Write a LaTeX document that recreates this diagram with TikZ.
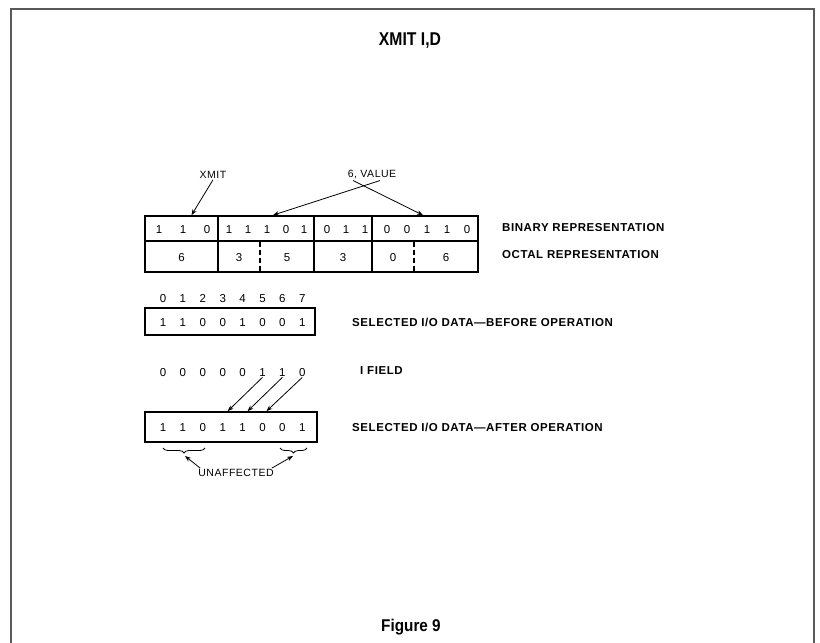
\documentclass[tikz,border=0pt]{standalone}
\usepackage{fontspec}
\setmainfont{Liberation Sans}
\newfontfamily\widefont{Liberation Sans}[LetterSpace=5]
\usetikzlibrary{arrows.meta,calc,decorations.pathreplacing}

\begin{document}
\begin{tikzpicture}[
  x=1pt, y=-1pt,
  cell/.style={draw, line width=1.7pt, inner sep=0pt},
  bit/.style={font=\fontsize{11.5}{12}\selectfont, inner sep=1pt, text height=8.3pt, text depth=0pt},
  lbl/.style={anchor=west, inner sep=0pt, font=\fontsize{11.5}{12}\selectfont\widefont\bfseries},
  note/.style={inner sep=1pt, font=\fontsize{10.5}{11}\selectfont\widefont},
  arr/.style={-{Stealth[length=6pt,width=4.5pt]}, line width=0.8pt},
  frame/.style={draw=black!65, line width=1.3pt}
]
  \useasboundingbox (0,0) rectangle (820,643);
  \draw[frame] (11,643) -- (11,9) -- (814,9) -- (814,643);

  \node[font=\fontsize{18.5}{18}\selectfont\bfseries, xscale=0.85, transform shape] (title) at (410,41) {XMIT I,D};
  \node[font=\fontsize{17}{17}\selectfont\bfseries, xscale=0.9, transform shape] (fig) at (411,627) {Figure 9};

  % instruction word
  \node[cell, minimum width=73, minimum height=25] (bin1) at (181.5,228.5) {};
  \node[cell, minimum width=96, minimum height=25] (bin2) at (266,228.5) {};
  \node[cell, minimum width=58, minimum height=25] (bin3) at (343,228.5) {};
  \node[cell, minimum width=106, minimum height=25] (bin4) at (425,228.5) {};
  \node[cell, minimum width=73, minimum height=31] (oct1) at (181.5,256.5) {};
  \node[cell, minimum width=96, minimum height=31] (oct2) at (266,256.5) {};
  \node[cell, minimum width=58, minimum height=31] (oct3) at (343,256.5) {};
  \node[cell, minimum width=106, minimum height=31] (oct4) at (425,256.5) {};
  \draw[line width=1.7pt, dash pattern=on 5pt off 3pt] (260,242) -- (260,271);
  \draw[line width=1.7pt, dash pattern=on 5pt off 3pt] (414,242) -- (414,271);

  \foreach \x/\d in {159/1,183/1,207/0,229/1,248/1,267/1,286/0,304/1,
                     327/0,346/1,365/1,387/0,407/0,427/1,447/1,467/0}
    \node[bit] at (\x,229) {\d};
  \foreach \x/\d in {181.5/6,239/3,287/5,343/3,393/0,446/6}
    \node[bit] at (\x,257) {\d};

  \node[note] (xmit) at (213,175) {XMIT};
  \node[note] (val) at (372,175) {6, VALUE};
  \draw[arr] (xmit.south) -- ($(bin1.north)+(10,0)$);
  \draw[arr] ($(val.south)+(8,0)$) -- ($(bin2.north)+(7,0)$);
  \draw[arr] ($(val.south)+(-19,0)$) -- ($(bin4.north)+(-2,0)$);

  \node[lbl] (binlbl) at (502,228) {BINARY REPRESENTATION};
  \node[lbl] (octlbl) at (502,255) {OCTAL REPRESENTATION};

  % data before / after
  \node[cell, minimum width=170, minimum height=27] (bef) at (230,321.5) {};
  \node[cell, minimum width=172, minimum height=30] (aft) at (231,427) {};
  \foreach \i/\a/\b/\c in {0/1/0/1,1/1/0/1,2/0/0/0,3/0/0/1,4/1/0/1,5/0/1/0,6/0/1/0,7/1/0/1} {
    \node[bit] (idx\i) at (163+19.9*\i,298) {\i};
    \node[bit] (bf\i) at (163+19.9*\i,322) {\a};
    \node[bit] (if\i) at (163+19.9*\i,372) {\b};
    \node[bit] (af\i) at (163+19.9*\i,427) {\c};
  }
  \node[lbl] (beflbl) at (352,322) {SELECTED I/O DATA—BEFORE OPERATION};
  \node[lbl] (iflbl) at (360,371) {I FIELD};
  \node[lbl] (aftlbl) at (352,427) {SELECTED I/O DATA—AFTER OPERATION};

  \draw[arr] (if5.south) -- ($(af3 |- aft.north)+(5,0)$);
  \draw[arr] (if6.south) -- ($(af4 |- aft.north)+(5,0)$);
  \draw[arr] (if7.south) -- ($(af5 |- aft.north)+(4,0)$);

  \draw[line width=0.8pt, decorate, decoration={brace, mirror, amplitude=5pt}] (163,448) -- (205,448);
  \draw[line width=0.8pt, decorate, decoration={brace, mirror, amplitude=5pt}] (280,448) -- (307,448);
  \coordinate (ltip) at (185,456);
  \coordinate (rtip) at (293,456);
  \node[note] (unaf) at (236,473) {UNAFFECTED};
  \draw[arr] ([xshift=3pt]unaf.north west) -- (ltip);
  \draw[arr] ([xshift=-3pt]unaf.north east) -- (rtip);
\end{tikzpicture}
\end{document}
